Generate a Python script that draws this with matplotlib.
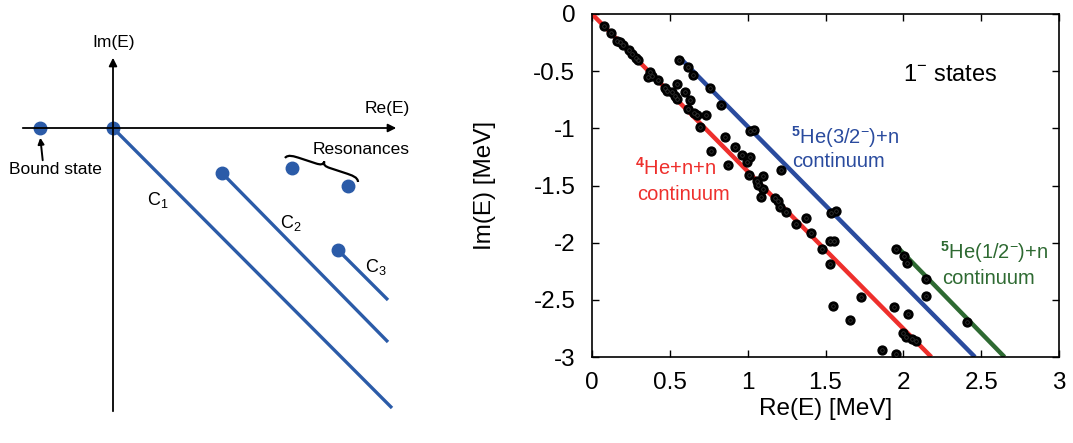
import matplotlib
matplotlib.use('Agg')
import matplotlib.pyplot as plt
from matplotlib.path import Path
from matplotlib.patches import PathPatch
import numpy as np

plt.rcParams['font.family'] = ['Liberation Sans', 'DejaVu Sans']
plt.rcParams['mathtext.fontset'] = 'custom'
plt.rcParams['mathtext.rm'] = 'Liberation Sans'
plt.rcParams['mathtext.it'] = 'Liberation Sans:italic'
plt.rcParams['mathtext.bf'] = 'Liberation Sans:bold'

# ---- left panel: schematic complex energy plane (pixel-like units) ----
origin = (113, 128)
bound_state = (40, 128)
cut_starts = [(113, 128), (222, 173), (338, 250)]
cut_ends = [(392, 408), (388, 342), (388, 300)]
cut_labels = ['C$_1$', 'C$_2$', 'C$_3$']
cut_label_pos = [(158, 200), (291, 223), (376, 267)]
resonances = [(292, 168), (348, 186)]

# ---- right panel: complex scaling eigenvalues, 1- states ----
re_e = [0.077, 0.125, 0.160, 0.183, 0.202, 0.240, 0.260, 0.282, 0.298, 0.374,
        0.385, 0.362, 0.426, 0.471, 0.481, 0.516, 0.532, 0.545, 0.549, 0.561,
        0.615, 0.646, 0.597, 0.628, 0.615, 0.654, 0.673, 0.731, 0.756, 0.831,
        0.692, 0.853, 1.016, 1.042, 0.767, 0.917, 0.962, 1.013, 0.997, 0.874,
        1.006, 1.096, 1.215, 1.058, 1.067, 1.098, 1.088, 1.173, 1.192, 1.205,
        1.248, 1.375, 1.312, 1.408, 1.538, 1.567, 1.526, 1.554, 1.478, 1.532,
        1.729, 1.551, 1.658, 1.953, 2.006, 2.024, 2.146, 2.146, 1.942, 2.032,
        2.000, 2.017, 2.058, 2.083, 1.865, 1.953, 2.412]
im_e = [-0.105, -0.169, -0.240, -0.249, -0.267, -0.319, -0.354, -0.389, -0.402, -0.511,
        -0.539, -0.548, -0.577, -0.649, -0.677, -0.686, -0.717, -0.740, -0.616, -0.398,
        -0.461, -0.531, -0.686, -0.752, -0.830, -0.870, -0.887, -0.883, -0.649, -0.795,
        -0.985, -1.073, -1.023, -1.014, -1.198, -1.163, -1.233, -1.247, -1.291, -1.320,
        -1.407, -1.420, -1.368, -1.460, -1.495, -1.534, -1.597, -1.611, -1.635, -1.691,
        -1.728, -1.786, -1.836, -1.917, -1.740, -1.722, -1.984, -1.984, -2.054, -2.190,
        -2.474, -2.552, -2.677, -2.054, -2.115, -2.179, -2.316, -2.465, -2.567, -2.625,
        -2.791, -2.826, -2.841, -2.858, -2.940, -2.972, -2.698]

# continuum lines (start, end)
he4nn_re = [0.0, 2.18]
he4nn_im = [0.0, -3.0]
he5_32_re = [0.577, 2.46]
he5_32_im = [-0.40, -3.0]
he5_12_re = [1.97, 2.65]
he5_12_im = [-2.05, -3.0]

xticks = [0, 0.5, 1, 1.5, 2, 2.5, 3]
yticks = [0, -0.5, -1, -1.5, -2, -2.5, -3]

blue_s = '#2b5ba8'
red = '#ee2f2c'
blue = '#2a4b9e'
green = '#2e6a32'

fig = plt.figure(figsize=(10.73, 4.43), dpi=100)

# left schematic
axl = fig.add_axes([0, 0, 430 / 1073, 1])
axl.set_xlim(0, 430)
axl.set_ylim(443, 0)
axl.axis('off')

arrow = dict(arrowstyle='-|>', color='black', lw=1.3, mutation_scale=12)
axl.annotate('', xy=(399, 128), xytext=(20, 128), arrowprops=arrow)
axl.annotate('', xy=(113, 55), xytext=(113, 414), arrowprops=arrow)
axl.text(114, 42, 'Im(E)', ha='center', va='center', fontsize=12.5)
axl.text(387, 108, 'Re(E)', ha='center', va='center', fontsize=12.5)

for (x0, y0), (x1, y1) in zip(cut_starts, cut_ends):
    axl.plot([x0, x1], [y0, y1], color=blue_s, lw=2.4, solid_capstyle='butt')
for lab, (x, y) in zip(cut_labels, cut_label_pos):
    axl.text(x, y, lab, ha='center', va='center', fontsize=13)

axl.plot([p[0] for p in cut_starts], [p[1] for p in cut_starts], 'o',
         color=blue_s, ms=9)
axl.plot(bound_state[0], bound_state[1], 'o', color=blue_s, ms=9)
axl.plot([p[0] for p in resonances], [p[1] for p in resonances], 'o',
         color=blue_s, ms=9)

axl.annotate('', xy=(40, 135), xytext=(43, 163),
             arrowprops=dict(arrowstyle='-|>', color='black', lw=1.4,
                             mutation_scale=9))
axl.text(55, 170, 'Bound state', ha='center', va='center', fontsize=12.5)
axl.text(313, 150, 'Resonances', ha='left', va='center', fontsize=12.5)

# curly brace over the resonances
p0 = np.array([285.0, 158.0])
p1 = np.array([358.0, 182.0])
d = p1 - p0
L = np.hypot(*d)
u = d / L
n = np.array([u[1], -u[0]])  # points "up" on the page
h = 9.0
local = [(0, 0), (0.02, 0.5), (0.1, 0.5), (0.2, 0.5),
         (0.4, 0.5),
         (0.47, 0.5), (0.5, 0.6), (0.5, 1.0),
         (0.5, 0.6), (0.53, 0.5), (0.6, 0.5),
         (0.8, 0.5),
         (0.9, 0.5), (0.98, 0.5), (1.0, 0.0)]
verts = [p0 + a * L * u + b * h * n for a, b in local]
codes = [Path.MOVETO, Path.CURVE4, Path.CURVE4, Path.CURVE4,
         Path.LINETO,
         Path.CURVE4, Path.CURVE4, Path.CURVE4,
         Path.CURVE4, Path.CURVE4, Path.CURVE4,
         Path.LINETO,
         Path.CURVE4, Path.CURVE4, Path.CURVE4]
axl.add_patch(PathPatch(Path(verts, codes), fill=False, lw=1.6, color='black'))

# right panel
ax = fig.add_axes([592 / 1073, 86 / 443, 467 / 1073, 343 / 443])
ax.plot(he4nn_re, he4nn_im, color=red, lw=3.2, solid_capstyle='butt')
ax.plot(he5_32_re, he5_32_im, color=blue, lw=3.2, solid_capstyle='butt')
ax.plot(he5_12_re, he5_12_im, color=green, lw=3.2, solid_capstyle='butt')
ax.plot(re_e, im_e, 'o', color='black', ms=6.4, mec='black', zorder=5)
ax.plot(re_e, im_e, 'o', mfc='none', mec='#3a3a3a', ms=2.6, mew=0.5, zorder=6)

ax.set_xlim(0, 3)
ax.set_ylim(-3, 0)
ax.set_xticks(xticks)
ax.set_xticklabels([f'{v:g}' for v in xticks])
ax.set_yticks(yticks)
ax.set_yticklabels([f'{v:g}' for v in yticks])
ax.tick_params(direction='in', top=True, right=True, length=5, width=1,
               labelsize=17.5)
ax.tick_params(axis='x', pad=11)
ax.tick_params(axis='y', pad=12)
for s in ax.spines.values():
    s.set_linewidth(1.2)
ax.set_xlabel('Re(E) [MeV]', fontsize=17.5, labelpad=3)
ax.set_ylabel('Im(E) [MeV]', fontsize=17.5, labelpad=27)

ax.text(2.0, -0.53, '1$^{-}$ states', fontsize=17, ha='left', va='center')
ax.text(1.28, -1.075, r'$^{\mathbf{5}}$He(3/2$^{-}$)+n', color=blue,
        fontsize=14.5, ha='left', va='center')
ax.text(1.285, -1.29, 'continuum', color=blue, fontsize=14.5, ha='left', va='center')
ax.text(0.276, -1.346, r'$^{\mathbf{4}}$He+n+n', color=red,
        fontsize=14.5, ha='left', va='center')
ax.text(0.288, -1.582, 'continuum', color=red, fontsize=14.5, ha='left', va='center')
ax.text(2.237, -2.08, r'$^{\mathbf{5}}$He(1/2$^{-}$)+n', color=green,
        fontsize=14.5, ha='left', va='center')
ax.text(2.25, -2.31, 'continuum', color=green, fontsize=14.5, ha='left', va='center')

fig.savefig('out.png', dpi=100)
